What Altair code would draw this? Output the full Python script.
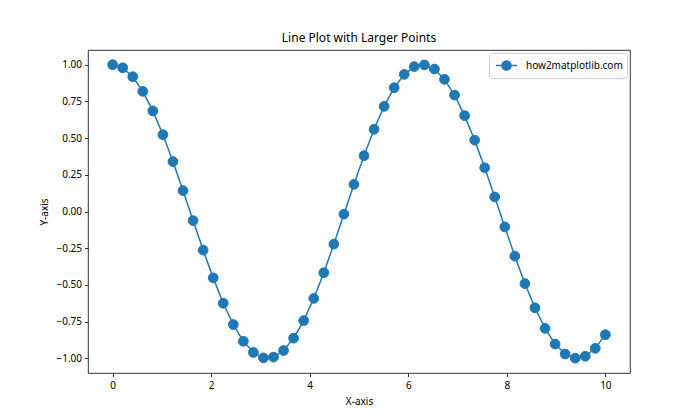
import altair as alt
import pandas as pd

FONT = "Noto Sans"
BLUE = "#1f77b4"

x_vals = [0.000, 0.204, 0.408, 0.612, 0.816, 1.020, 1.224, 1.429, 1.633, 1.837,
          2.041, 2.245, 2.449, 2.653, 2.857, 3.061, 3.265, 3.469, 3.673, 3.878,
          4.082, 4.286, 4.490, 4.694, 4.898, 5.102, 5.306, 5.510, 5.714, 5.918,
          6.122, 6.327, 6.531, 6.735, 6.939, 7.143, 7.347, 7.551, 7.755, 7.959,
          8.163, 8.367, 8.571, 8.776, 8.980, 9.184, 9.388, 9.592, 9.796, 10.000]
y_vals = [1.000, 0.979, 0.918, 0.818, 0.685, 0.523, 0.340, 0.142, -0.062, -0.263,
          -0.452, -0.625, -0.770, -0.884, -0.960, -0.997, -0.992, -0.947, -0.863, -0.743,
          -0.592, -0.417, -0.222, -0.018, 0.185, 0.380, 0.560, 0.716, 0.843, 0.934,
          0.987, 0.999, 0.970, 0.900, 0.793, 0.653, 0.486, 0.298, 0.099, -0.105,
          -0.304, -0.491, -0.656, -0.796, -0.903, -0.971, -0.999, -0.986, -0.932, -0.839]
series_label = "how2matplotlib.com"
x_ticks = [0, 2, 4, 6, 8, 10]
y_ticks = [-1.00, -0.75, -0.50, -0.25, 0.00, 0.25, 0.50, 0.75, 1.00]

df = pd.DataFrame({"x": x_vals, "y": y_vals, "series": series_label})

x_enc = alt.X("x:Q", scale=alt.Scale(domain=[-0.5, 10.5], nice=False, zero=False),
              axis=alt.Axis(title="X-axis", values=x_ticks, format="d",
                            labelPadding=4, titlePadding=6))
y_enc = alt.Y("y:Q", scale=alt.Scale(domain=[-1.1, 1.1], nice=False, zero=False),
              axis=alt.Axis(title="Y-axis", values=y_ticks, format=".2f",
                            titlePadding=6))

base = alt.Chart(df)

line = base.mark_line(color=BLUE, strokeWidth=1.5).encode(x=x_enc, y=y_enc)

# legend glyph: short line with a dot in its middle (unit = 7.5 px at size 225)
legend_symbol = ("M-0.733,0H2.067M0.067,0A0.6,0.6,0,1,0,1.267,0"
                 "A0.6,0.6,0,1,0,0.067,0Z")

points = base.mark_point(filled=True, size=95, opacity=1, strokeWidth=1).encode(
    x=x_enc, y=y_enc,
    color=alt.Color("series:N", scale=alt.Scale(range=[BLUE]),
                    legend=alt.Legend(title=None, orient="top-right", offset=3,
                                      symbolType=legend_symbol, symbolSize=225,
                                      symbolStrokeColor=BLUE, symbolStrokeWidth=1.5,
                                      symbolFillColor=BLUE, labelOffset=16)),
    stroke=alt.value(BLUE),
)

chart = alt.layer(line, points).properties(
    width=542, height=323,
    title=alt.TitleParams("Line Plot with Larger Points", fontSize=12, font=FONT,
                          fontWeight="normal", anchor="middle", offset=5, color="black"),
    autosize=alt.AutoSizeParams(type="none"),
    padding={"left": 88, "top": 50, "right": 70, "bottom": 47},
).configure_view(
    stroke="black", strokeWidth=0.8
).configure_axis(
    domain=False, grid=False, tickColor="black", tickSize=3.5, tickWidth=0.8,
    labelFont=FONT, labelFontSize=10, labelColor="black", labelPadding=3,
    titleFont=FONT, titleFontSize=10, titleFontWeight="normal", titleColor="black",
    titlePadding=4,
).configure_legend(
    labelFont=FONT, labelFontSize=10, labelColor="black",
    strokeColor="#cccccc", fillColor="white", cornerRadius=3, padding=4,
)

chart.save("out.html", embed_options={"renderer": "svg", "actions": False})
